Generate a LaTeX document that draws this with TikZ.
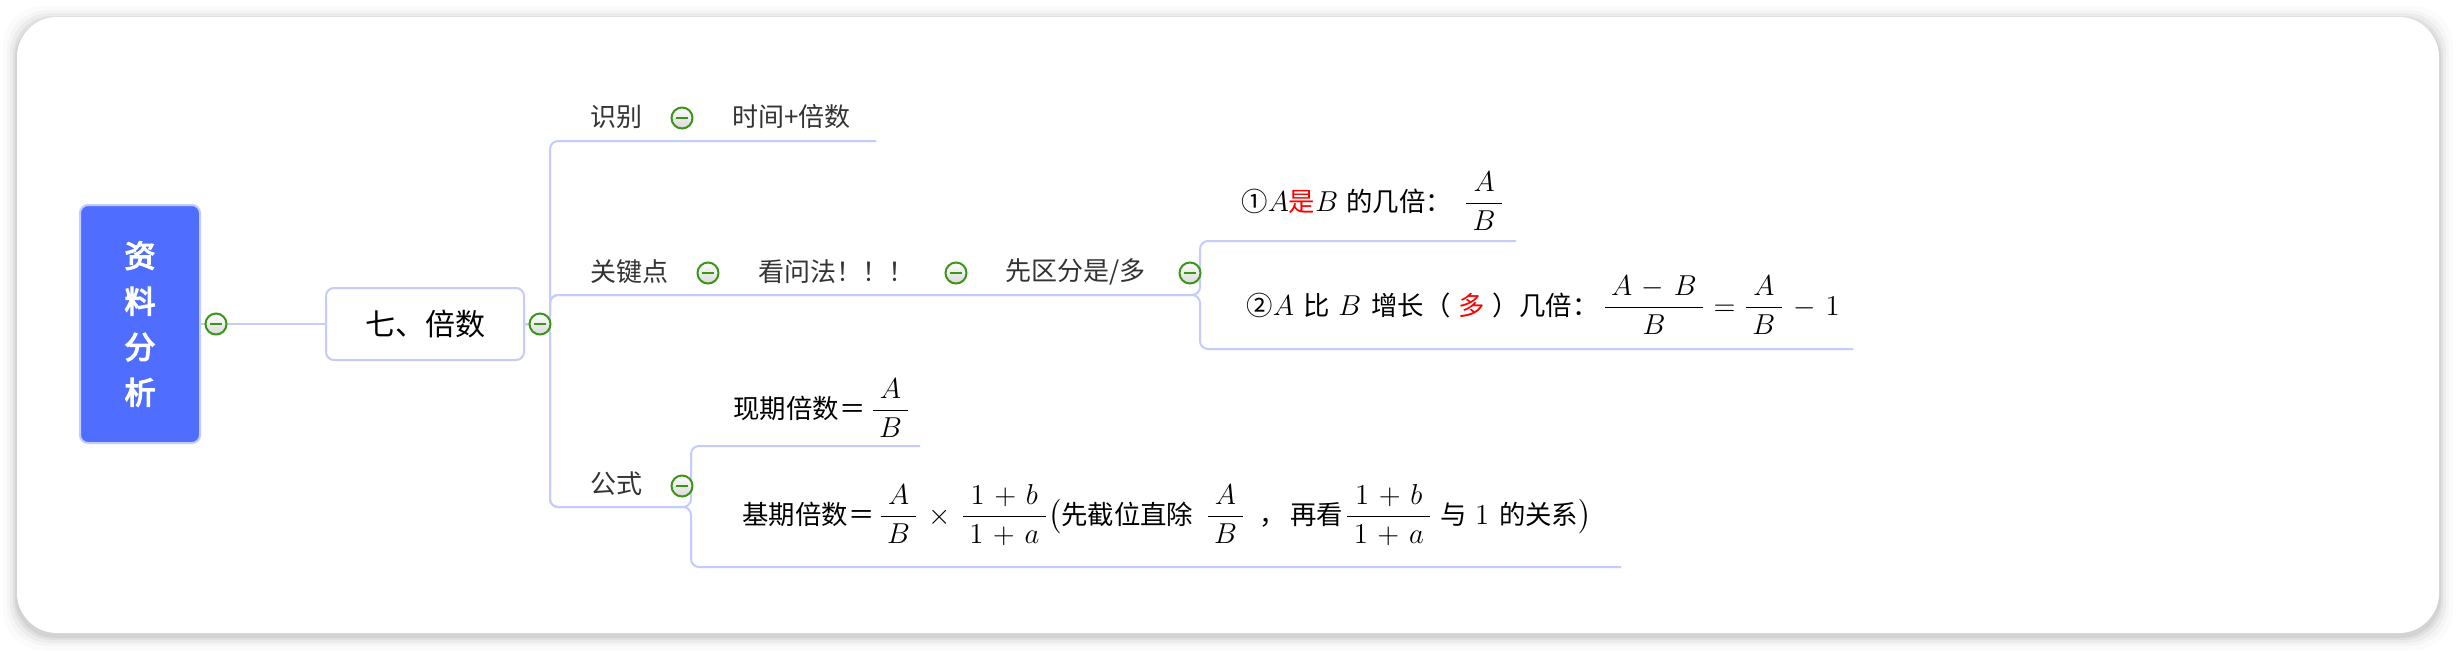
\documentclass[tikz,border=0pt]{standalone}
\usepackage{amsmath}
\usepackage{fontspec}
\setmainfont{Noto Sans CJK SC}
\newfontfamily\zhbold{Noto Sans CJK SC}[FakeBold=4]
\usepackage{xcolor}
\usetikzlibrary{calc}

\definecolor{linkblue}{RGB}{197,203,250}
\definecolor{rootblue}{RGB}{79,110,255}
\definecolor{foldgreen}{RGB}{58,150,22}
\definecolor{topicgray}{RGB}{51,51,51}
\newcommand{\zh}[1]{{\fontsize{13.2}{15}\selectfont #1}}
\newcommand{\fr}[2]{\dfrac{\mkern4mu#1\mkern4mu}{\mkern4mu#2\mkern4mu}}
\medmuskip=6mu\relax

\begin{document}
\begin{tikzpicture}[x=0.5pt, y=-0.5pt,
    link/.style={draw=linkblue, line width=1pt, rounded corners=4pt},
    rootbox/.style={rectangle, rounded corners=4pt, fill=rootblue, draw=linkblue, line width=1pt,
        minimum width=60pt, minimum height=119pt, text=white, align=center,
        font=\fontsize{15.5}{22.8}\selectfont\zhbold},
    secbox/.style={rectangle, rounded corners=4pt, fill=white, draw=linkblue, line width=1pt,
        minimum width=99pt, minimum height=36pt, font=\fontsize{15}{17}\selectfont},
    topic/.style={anchor=west, inner sep=0pt, text=topicgray, font=\fontsize{13}{16}\selectfont},
    formula/.style={anchor=base west, inner sep=0pt, font=\fontsize{14.6}{18}\selectfont},
    fold/.style={circle, draw=foldgreen, line width=1pt, inner sep=0pt, minimum size=10.5pt,
        top color=white, bottom color=black!15,
        path picture={\draw[foldgreen, line width=1.2pt]
            ([xshift=-3pt]path picture bounding box.center) -- ([xshift=3pt]path picture bounding box.center);}}]
\useasboundingbox (0,0) rectangle (2456,650);
\foreach \s/\o in {14/0.015, 10/0.025, 7/0.035, 4/0.05, 2/0.06}
    \fill[black, opacity=\o, rounded corners=20pt] (17-\s,17-\s+3) rectangle (2439+\s,633+\s+3);
\fill[white, rounded corners=20pt] (17,17) rectangle (2439,633);

\node[rootbox] (root) at (140,324) {资\\料\\分\\析};
\node[secbox] (sec) at (425,324) {七、倍数};

\node[topic] (shibie) at (590,117) {识别};
\node[topic] (shijian) at (732,117) {时间+倍数};
\node[topic] (guanjian) at (590,272) {关键点};
\node[topic] (kanwen) at (758,272) {看问法！！！};
\node[topic] (xianqu) at (1005,272) {先区分是/多};
\node[topic] (gongshi) at (590,484) {公式};

\node[formula] (jibei) at (1241,211) {\zh{①}$A$\zh{\textcolor{red}{是}}$B$\hspace{4pt}\zh{的几倍：}\hspace{6pt}$\fr{A}{B}$};
\node[formula] (zengzhang) at (1246,315) {\zh{②}$A$\hspace{5pt}\zh{比}\hspace{4pt}$B$\hspace{5pt}\zh{增长（\hspace{4pt}\textcolor{red}{多}\hspace{4pt}）几倍：}\hspace{2pt}$\fr{A-B}{B}=\fr{A}{B}-1$};
\node[formula] (xianqi) at (733,418) {\zh{现期倍数＝}\,$\fr{A}{B}$};
\node[formula] (jiqi) at (742,524) {\zh{基期倍数＝}\hspace{2pt}$\fr{A}{B}\times\fr{1+b}{1+a}\bigl($\zh{先截位直除}\hspace{6pt}$\fr{A}{B}$\hspace{7pt}\zh{，}\hspace{2pt}\zh{再看}\hspace{1pt}$\fr{1+b}{1+a}$\hspace{4pt}\zh{与}\hspace{4pt}$1$\hspace{5pt}\zh{的关系}$\bigr)$};

\coordinate (j1) at (550,324);
\coordinate (e1) at (876,141);
\coordinate (j2) at (1200,295);
\coordinate (e21) at (1516,241);
\coordinate (e22) at (1853,349);
\coordinate (j3) at (691,507);
\coordinate (e31) at (920,446);
\coordinate (e32) at (1621,567);

\draw[link] (root.east) -- (sec.west);
\draw[link] (sec.east) -- (j1) |- (e1);
\draw[link] (sec.east) -- (j1) |- (j2) |- (e21);
\draw[link] (sec.east) -- (j1) |- (j2) |- (e22);
\draw[link] (sec.east) -- (j1) |- (j3) |- (e31);
\draw[link] (sec.east) -- (j1) |- (j3) |- (e32);

\node[fold] (f0) at (216,324) {};
\node[fold] (f1) at (540,324) {};
\node[fold] (f2) at (682,118) {};
\node[fold] (f3) at (708,273) {};
\node[fold] (f4) at (956,273) {};
\node[fold] (f5) at (1190,273) {};
\node[fold] (f6) at (682,486) {};
\end{tikzpicture}
\end{document}
